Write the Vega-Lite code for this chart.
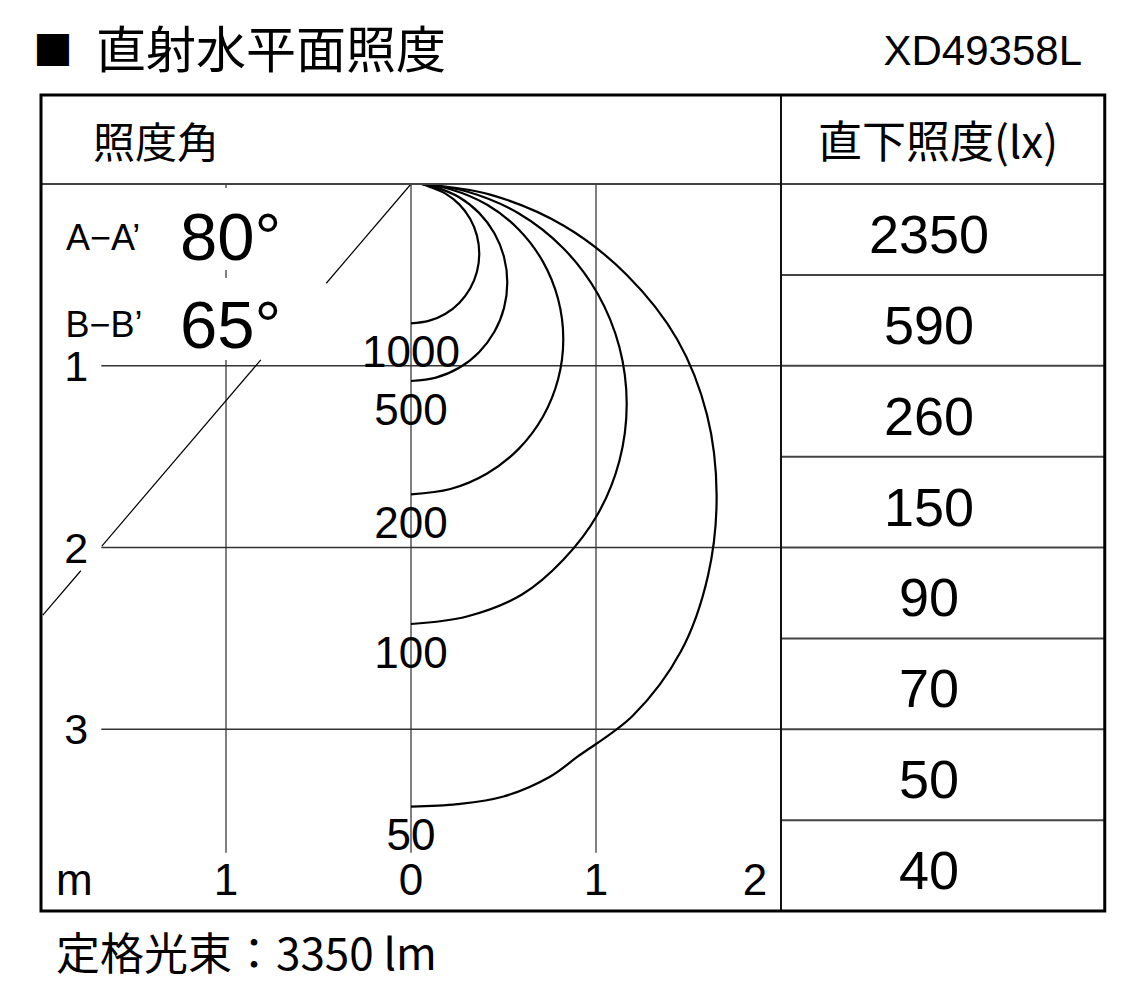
{
  "$schema": "https://vega.github.io/schema/vega-lite/v6.json",
  "width": 1126,
  "height": 999,
  "autosize": {"type": "none"},
  "padding": 0,
  "background": "#ffffff",
  "config": {"view": {"stroke": null}, "text": {"font": "Liberation Sans", "color": "#000000"}},
  "data": {"values": [{}]},
  "datasets": {
    "curves": [
      {"lux": 1000, "i": 0, "x": 0.058, "y": 0},
      {"lux": 1000, "i": 1, "x": 0.0955, "y": 0.0131},
      {"lux": 1000, "i": 2, "x": 0.1845, "y": 0.0513},
      {"lux": 1000, "i": 3, "x": 0.2609, "y": 0.1122},
      {"lux": 1000, "i": 4, "x": 0.3196, "y": 0.1916},
      {"lux": 1000, "i": 5, "x": 0.3564, "y": 0.284},
      {"lux": 1000, "i": 6, "x": 0.369, "y": 0.3832},
      {"lux": 1000, "i": 7, "x": 0.3564, "y": 0.4824},
      {"lux": 1000, "i": 8, "x": 0.3196, "y": 0.5748},
      {"lux": 1000, "i": 9, "x": 0.2609, "y": 0.6542},
      {"lux": 1000, "i": 10, "x": 0.1845, "y": 0.7151},
      {"lux": 1000, "i": 11, "x": 0.0955, "y": 0.7533},
      {"lux": 1000, "i": 12, "x": 0, "y": 0.7664},
      {"lux": 500, "i": 0, "x": 0.058, "y": 0},
      {"lux": 500, "i": 1, "x": 0.1347, "y": 0.0185},
      {"lux": 500, "i": 2, "x": 0.2603, "y": 0.0726},
      {"lux": 500, "i": 3, "x": 0.368, "y": 0.1588},
      {"lux": 500, "i": 4, "x": 0.4508, "y": 0.271},
      {"lux": 500, "i": 5, "x": 0.5028, "y": 0.4017},
      {"lux": 500, "i": 6, "x": 0.5205, "y": 0.542},
      {"lux": 500, "i": 7, "x": 0.5028, "y": 0.6823},
      {"lux": 500, "i": 8, "x": 0.4508, "y": 0.813},
      {"lux": 500, "i": 9, "x": 0.368, "y": 0.9252},
      {"lux": 500, "i": 10, "x": 0.2603, "y": 1.0114},
      {"lux": 500, "i": 11, "x": 0.1347, "y": 1.0655},
      {"lux": 500, "i": 12, "x": 0, "y": 1.084},
      {"lux": 200, "i": 0, "x": 0.058, "y": 0},
      {"lux": 200, "i": 1, "x": 0.213, "y": 0.0291},
      {"lux": 200, "i": 2, "x": 0.4116, "y": 0.1144},
      {"lux": 200, "i": 3, "x": 0.5821, "y": 0.25},
      {"lux": 200, "i": 4, "x": 0.7129, "y": 0.4269},
      {"lux": 200, "i": 5, "x": 0.7951, "y": 0.6328},
      {"lux": 200, "i": 6, "x": 0.8232, "y": 0.8537},
      {"lux": 200, "i": 7, "x": 0.7951, "y": 1.0746},
      {"lux": 200, "i": 8, "x": 0.7129, "y": 1.2806},
      {"lux": 200, "i": 9, "x": 0.5821, "y": 1.4573},
      {"lux": 200, "i": 10, "x": 0.4116, "y": 1.593},
      {"lux": 200, "i": 11, "x": 0.213, "y": 1.6783},
      {"lux": 200, "i": 12, "x": 0, "y": 1.7074},
      {"lux": 100, "i": 0, "x": 0.058, "y": 0},
      {"lux": 100, "i": 1, "x": 0.3018, "y": 0.0413},
      {"lux": 100, "i": 2, "x": 0.583, "y": 0.1622},
      {"lux": 100, "i": 3, "x": 0.8245, "y": 0.3546},
      {"lux": 100, "i": 4, "x": 1.0098, "y": 0.6053},
      {"lux": 100, "i": 5, "x": 1.1263, "y": 0.8972},
      {"lux": 100, "i": 6, "x": 1.166, "y": 1.2105},
      {"lux": 100, "i": 7, "x": 1.1263, "y": 1.5238},
      {"lux": 100, "i": 8, "x": 1.0098, "y": 1.8158},
      {"lux": 100, "i": 9, "x": 0.8245, "y": 2.0664},
      {"lux": 100, "i": 10, "x": 0.6, "y": 2.2588},
      {"lux": 100, "i": 11, "x": 0.3018, "y": 2.3797},
      {"lux": 100, "i": 12, "x": 0, "y": 2.421},
      {"lux": 50, "i": 0, "x": 0.058, "y": 0},
      {"lux": 50, "i": 1, "x": 0.4276, "y": 0.0584},
      {"lux": 50, "i": 2, "x": 0.826, "y": 0.2296},
      {"lux": 50, "i": 3, "x": 1.1681, "y": 0.5018},
      {"lux": 50, "i": 4, "x": 1.44, "y": 0.8566},
      {"lux": 50, "i": 5, "x": 1.6, "y": 1.2697},
      {"lux": 50, "i": 6, "x": 1.652, "y": 1.7131},
      {"lux": 50, "i": 7, "x": 1.605, "y": 2.1565},
      {"lux": 50, "i": 8, "x": 1.46, "y": 2.5697},
      {"lux": 50, "i": 9, "x": 1.2, "y": 2.9245},
      {"lux": 50, "i": 10, "x": 0.9, "y": 3.151},
      {"lux": 50, "i": 11, "x": 0.751, "y": 3.261},
      {"lux": 50, "i": 12, "x": 0.5, "y": 3.37},
      {"lux": 50, "i": 13, "x": 0.25, "y": 3.412},
      {"lux": 50, "i": 14, "x": 0, "y": 3.426}
    ],
    "table": [
      {"depth": 0.5, "lux": 2350},
      {"depth": 1, "lux": 590},
      {"depth": 1.5, "lux": 260},
      {"depth": 2, "lux": 150},
      {"depth": 2.5, "lux": 90},
      {"depth": 3, "lux": 70},
      {"depth": 3.5, "lux": 50},
      {"depth": 4, "lux": 40}
    ],
    "gridV": [
      {"x": -1, "y": 0, "y2": 0.022},
      {"x": -1, "y": 0.473, "y2": 0.517},
      {"x": -1, "y": 0.968, "y2": 3.68},
      {"x": 0, "y": 0, "y2": 3.68},
      {"x": 1, "y": 0, "y2": 3.68}
    ],
    "gridH": [
      {"y": 1, "x": -1.674, "x2": 2},
      {"y": 2, "x": -1.674, "x2": 2},
      {"y": 3, "x": -1.674, "x2": 2}
    ],
    "beam": [
      {"x": 0, "y": 0, "x2": -0.458, "y2": 0.546},
      {"x": -0.812, "y": 0.968, "x2": -1.671, "y2": 1.992},
      {"x": -1.785, "y": 2.128, "x2": -1.99, "y2": 2.372}
    ],
    "ticksX": [
      {"x": -1.82, "t": "m"},
      {"x": -1, "t": "1"},
      {"x": 0, "t": "0"},
      {"x": 1, "t": "1"},
      {"x": 1.86, "t": "2"}
    ],
    "ticksY": [
      {"y": 1, "t": "1"},
      {"y": 2, "t": "2"},
      {"y": 3, "t": "3"}
    ]
  },
  "layer": [
    {
      "data": {"name": "gridV"},
      "mark": {"type": "rule", "stroke": "#808080", "strokeWidth": 2},
      "encoding": {
        "x": {"field": "x", "type": "quantitative", "scale": {"domain": [-2.22162, 3.86486], "nice": false, "zero": false}, "axis": null},
        "y": {"field": "y", "type": "quantitative", "scale": {"domain": [-1.01238, 4.48418], "nice": false, "zero": false, "reverse": true}, "axis": null},
        "y2": {"field": "y2"}
      }
    },
    {
      "data": {"name": "gridH"},
      "mark": {"type": "rule", "stroke": "#333333", "strokeWidth": 1.5},
      "encoding": {
        "x": {"field": "x", "type": "quantitative", "scale": {"domain": [-2.22162, 3.86486], "nice": false, "zero": false}, "axis": null},
        "x2": {"field": "x2"},
        "y": {"field": "y", "type": "quantitative", "scale": {"domain": [-1.01238, 4.48418], "nice": false, "zero": false, "reverse": true}, "axis": null}
      }
    },
    {
      "data": {"name": "beam"},
      "mark": {"type": "rule", "stroke": "#000000", "strokeWidth": 1.2},
      "encoding": {
        "x": {"field": "x", "type": "quantitative", "scale": {"domain": [-2.22162, 3.86486], "nice": false, "zero": false}, "axis": null},
        "x2": {"field": "x2"},
        "y": {"field": "y", "type": "quantitative", "scale": {"domain": [-1.01238, 4.48418], "nice": false, "zero": false, "reverse": true}, "axis": null},
        "y2": {"field": "y2"}
      }
    },
    {
      "data": {"name": "curves"},
      "mark": {"type": "line", "stroke": "#000000", "strokeWidth": 2.2, "interpolate": "catmull-rom"},
      "encoding": {
        "x": {"field": "x", "type": "quantitative", "scale": {"domain": [-2.22162, 3.86486], "nice": false, "zero": false}, "axis": null},
        "y": {"field": "y", "type": "quantitative", "scale": {"domain": [-1.01238, 4.48418], "nice": false, "zero": false, "reverse": true}, "axis": null},
        "detail": {"field": "lux", "type": "nominal"},
        "order": {"field": "i", "type": "quantitative"}
      }
    },
    {
      "data": {"name": "curves"},
      "transform": [{"filter": "datum.x == 0"}],
      "mark": {"type": "text", "fontSize": 44, "align": "center", "baseline": "top", "dy": 8.7},
      "encoding": {
        "x": {"field": "x", "type": "quantitative", "scale": {"domain": [-2.22162, 3.86486], "nice": false, "zero": false}, "axis": null},
        "y": {"field": "y", "type": "quantitative", "scale": {"domain": [-1.01238, 4.48418], "nice": false, "zero": false, "reverse": true}, "axis": null},
        "text": {"field": "lux", "type": "quantitative"}
      }
    },
    {
      "data": {"name": "ticksX"},
      "mark": {"type": "text", "fontSize": 44, "align": "center", "baseline": "alphabetic"},
      "encoding": {
        "x": {"field": "x", "type": "quantitative", "scale": {"domain": [-2.22162, 3.86486], "nice": false, "zero": false}, "axis": null},
        "y": {"datum": 3.912, "type": "quantitative", "scale": {"domain": [-1.01238, 4.48418], "nice": false, "zero": false, "reverse": true}, "axis": null},
        "text": {"field": "t", "type": "nominal"}
      }
    },
    {
      "data": {"name": "ticksY"},
      "mark": {"type": "text", "fontSize": 43, "align": "center", "baseline": "middle", "dy": 2},
      "encoding": {
        "x": {"datum": -1.81, "type": "quantitative", "scale": {"domain": [-2.22162, 3.86486], "nice": false, "zero": false}, "axis": null},
        "y": {"field": "y", "type": "quantitative", "scale": {"domain": [-1.01238, 4.48418], "nice": false, "zero": false, "reverse": true}, "axis": null},
        "text": {"field": "t", "type": "nominal"}
      }
    },
    {
      "mark": {"type": "text", "text": "A−A’", "fontSize": 36, "align": "left", "baseline": "alphabetic"},
      "encoding": {
        "x": {"datum": -1.865, "type": "quantitative", "scale": {"domain": [-2.22162, 3.86486], "nice": false, "zero": false}, "axis": null},
        "y": {"datum": 0.363, "type": "quantitative", "scale": {"domain": [-1.01238, 4.48418], "nice": false, "zero": false, "reverse": true}, "axis": null}
      }
    },
    {
      "mark": {"type": "text", "text": "B−B’", "fontSize": 36, "align": "left", "baseline": "alphabetic"},
      "encoding": {
        "x": {"datum": -1.868, "type": "quantitative", "scale": {"domain": [-2.22162, 3.86486], "nice": false, "zero": false}, "axis": null},
        "y": {"datum": 0.84, "type": "quantitative", "scale": {"domain": [-1.01238, 4.48418], "nice": false, "zero": false, "reverse": true}, "axis": null}
      }
    },
    {
      "mark": {"type": "text", "text": "80°", "fontSize": 67, "align": "left", "baseline": "alphabetic"},
      "encoding": {
        "x": {"datum": -1.249, "type": "quantitative", "scale": {"domain": [-2.22162, 3.86486], "nice": false, "zero": false}, "axis": null},
        "y": {"datum": 0.418, "type": "quantitative", "scale": {"domain": [-1.01238, 4.48418], "nice": false, "zero": false, "reverse": true}, "axis": null}
      }
    },
    {
      "mark": {"type": "text", "text": "65°", "fontSize": 67, "align": "left", "baseline": "alphabetic"},
      "encoding": {
        "x": {"datum": -1.249, "type": "quantitative", "scale": {"domain": [-2.22162, 3.86486], "nice": false, "zero": false}, "axis": null},
        "y": {"datum": 0.904, "type": "quantitative", "scale": {"domain": [-1.01238, 4.48418], "nice": false, "zero": false, "reverse": true}, "axis": null}
      }
    },
    {
      "mark": {"type": "text", "text": "■", "font": "Noto Sans CJK JP", "fontSize": 40, "align": "center", "baseline": "middle"},
      "encoding": {
        "x": {"datum": -1.935, "type": "quantitative", "scale": {"domain": [-2.22162, 3.86486], "nice": false, "zero": false}, "axis": null},
        "y": {"datum": -0.72, "type": "quantitative", "scale": {"domain": [-1.01238, 4.48418], "nice": false, "zero": false, "reverse": true}, "axis": null}
      }
    },
    {
      "mark": {"type": "text", "text": "直射水平面照度", "font": "Noto Sans CJK JP", "fontSize": 50, "align": "left", "baseline": "middle"},
      "encoding": {
        "x": {"datum": -1.703, "type": "quantitative", "scale": {"domain": [-2.22162, 3.86486], "nice": false, "zero": false}, "axis": null},
        "y": {"datum": -0.72, "type": "quantitative", "scale": {"domain": [-1.01238, 4.48418], "nice": false, "zero": false, "reverse": true}, "axis": null}
      }
    },
    {
      "mark": {"type": "text", "text": "XD49358L", "font": "Liberation Sans", "fontSize": 42, "align": "right", "baseline": "alphabetic"},
      "encoding": {
        "x": {"datum": 3.627, "type": "quantitative", "scale": {"domain": [-2.22162, 3.86486], "nice": false, "zero": false}, "axis": null},
        "y": {"datum": -0.655, "type": "quantitative", "scale": {"domain": [-1.01238, 4.48418], "nice": false, "zero": false, "reverse": true}, "axis": null}
      }
    },
    {
      "mark": {"type": "text", "text": "照度角", "font": "Noto Sans CJK JP", "fontSize": 42, "align": "left", "baseline": "middle"},
      "encoding": {
        "x": {"datum": -1.719, "type": "quantitative", "scale": {"domain": [-2.22162, 3.86486], "nice": false, "zero": false}, "axis": null},
        "y": {"datum": -0.212, "type": "quantitative", "scale": {"domain": [-1.01238, 4.48418], "nice": false, "zero": false, "reverse": true}, "axis": null}
      }
    },
    {
      "mark": {"type": "text", "text": "直下照度(lx)", "font": "Noto Sans CJK JP", "fontSize": 44, "align": "center", "baseline": "middle"},
      "encoding": {
        "x": {"datum": 2.849, "type": "quantitative", "scale": {"domain": [-2.22162, 3.86486], "nice": false, "zero": false}, "axis": null},
        "y": {"datum": -0.212, "type": "quantitative", "scale": {"domain": [-1.01238, 4.48418], "nice": false, "zero": false, "reverse": true}, "axis": null}
      }
    },
    {
      "mark": {"type": "text", "text": "定格光束：3350 lm", "font": "Noto Sans CJK JP", "fontSize": 44, "align": "left", "baseline": "alphabetic"},
      "encoding": {
        "x": {"datum": -1.919, "type": "quantitative", "scale": {"domain": [-2.22162, 3.86486], "nice": false, "zero": false}, "axis": null},
        "y": {"datum": 4.325, "type": "quantitative", "scale": {"domain": [-1.01238, 4.48418], "nice": false, "zero": false, "reverse": true}, "axis": null}
      }
    },
    {
      "data": {"name": "table"},
      "mark": {"type": "rule", "stroke": "#444444", "strokeWidth": 2},
      "encoding": {
        "x": {"datum": 2, "type": "quantitative", "scale": {"domain": [-2.22162, 3.86486], "nice": false, "zero": false}, "axis": null},
        "x2": {"datum": 3.75},
        "y": {"field": "depth", "type": "quantitative", "scale": {"domain": [-1.01238, 4.48418], "nice": false, "zero": false, "reverse": true}, "axis": null}
      }
    },
    {
      "data": {"name": "table"},
      "mark": {"type": "text", "fontSize": 54, "align": "center", "baseline": "alphabetic", "dy": -22},
      "encoding": {
        "x": {"datum": 2.8, "type": "quantitative", "scale": {"domain": [-2.22162, 3.86486], "nice": false, "zero": false}, "axis": null},
        "y": {"field": "depth", "type": "quantitative", "scale": {"domain": [-1.01238, 4.48418], "nice": false, "zero": false, "reverse": true}, "axis": null},
        "text": {"field": "lux", "type": "quantitative"}
      }
    },
    {
      "mark": {"type": "rule", "stroke": "#444444", "strokeWidth": 2},
      "encoding": {
        "x": {"datum": -2, "type": "quantitative", "scale": {"domain": [-2.22162, 3.86486], "nice": false, "zero": false}, "axis": null},
        "x2": {"datum": 3.75},
        "y": {"datum": 0, "type": "quantitative", "scale": {"domain": [-1.01238, 4.48418], "nice": false, "zero": false, "reverse": true}, "axis": null}
      }
    },
    {
      "mark": {"type": "rule", "stroke": "#111111", "strokeWidth": 2},
      "encoding": {
        "x": {"datum": 2, "type": "quantitative", "scale": {"domain": [-2.22162, 3.86486], "nice": false, "zero": false}, "axis": null},
        "y": {"datum": -0.49, "type": "quantitative", "scale": {"domain": [-1.01238, 4.48418], "nice": false, "zero": false, "reverse": true}, "axis": null},
        "y2": {"datum": 4}
      }
    },
    {
      "mark": {"type": "rect", "filled": false, "stroke": "#000000", "strokeWidth": 3},
      "encoding": {
        "x": {"datum": -2, "type": "quantitative", "scale": {"domain": [-2.22162, 3.86486], "nice": false, "zero": false}, "axis": null},
        "x2": {"datum": 3.75},
        "y": {"datum": -0.49, "type": "quantitative", "scale": {"domain": [-1.01238, 4.48418], "nice": false, "zero": false, "reverse": true}, "axis": null},
        "y2": {"datum": 4}
      }
    }
  ]
}
